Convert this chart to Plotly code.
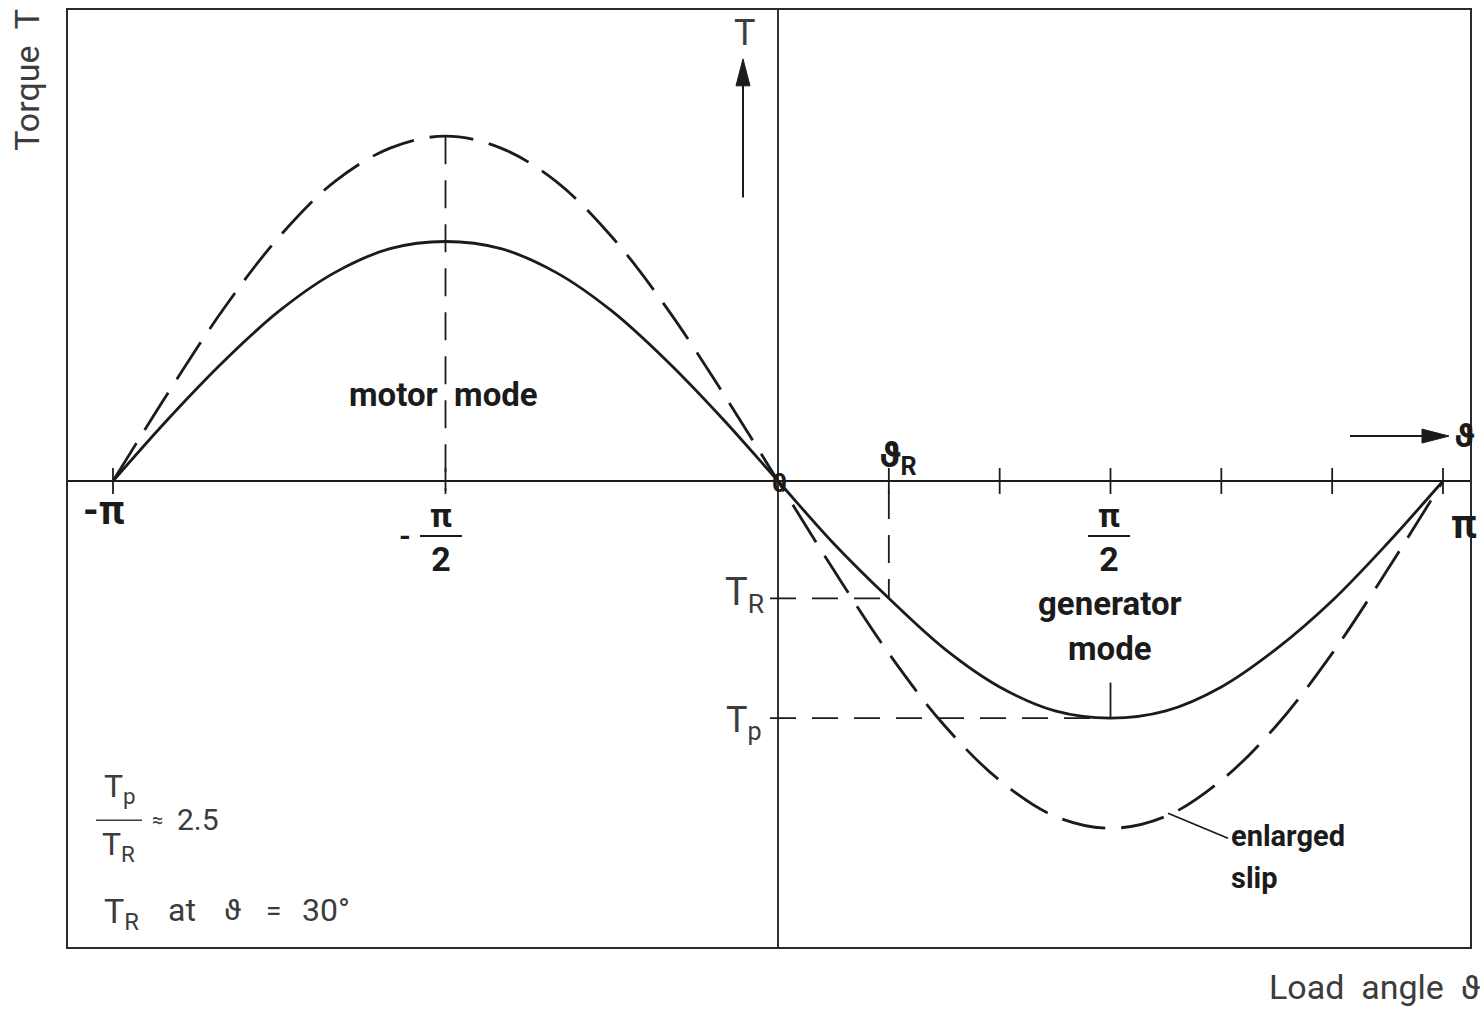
import math
import plotly.graph_objects as go

# Load angle samples (degrees) and the two torque curves
angle_deg = [-180, -165, -150, -135, -120, -105, -90, -75, -60, -45, -30, -15, 0,
             15, 30, 45, 60, 75, 90, 105, 120, 135, 150, 165, 180]
torque_normal = [0.0, 0.26, 0.5, 0.71, 0.87, 0.97, 1.0, 0.97, 0.87, 0.71, 0.5, 0.26, 0.0,
                 -0.26, -0.49, -0.7, -0.86, -0.96, -0.99, -0.96, -0.86, -0.7, -0.5, -0.26, 0.0]
torque_enlarged_slip = [0.0, 0.37, 0.72, 1.02, 1.25, 1.39, 1.44, 1.39, 1.25, 1.02, 0.72, 0.37, 0.0,
                        -0.37, -0.72, -1.02, -1.25, -1.4, -1.45, -1.4, -1.25, -1.02, -0.72, -0.37, 0.0]

# Reference points
theta_R_deg = 30
T_R = -0.49
T_p = -0.99
peak_motor_enlarged = 1.44
tick_deg = [-180, -90, 30, 60, 90, 120, 150, 180]

rad = [math.radians(a) for a in angle_deg]

# pixel <-> data helpers for label placement (plot area 68..1470 x 8..947)
X0, PX_PER_RAD = 778, 665 / math.pi
Y0, PX_PER_UNIT = 480, 240
W, H = 1484, 1009


def X(px):
    return (px - X0) / PX_PER_RAD


def Y(py):
    return (Y0 - py) / PX_PER_UNIT


FONT = "Roboto, DejaVu Sans, sans-serif"
INK = "#1b1b1b"
LIGHT = "#3c3c3c"

fig = go.Figure()

fig.add_trace(go.Scatter(x=rad, y=torque_normal, mode="lines", line_shape="spline",
                         line=dict(color=INK, width=2.8), hoverinfo="skip"))
fig.add_trace(go.Scatter(x=rad, y=torque_enlarged_slip, mode="lines", line_shape="spline",
                         line=dict(color=INK, width=2.8, dash="44px,16px"), hoverinfo="skip"))

shapes = []


def line(x0, y0, x1, y1, width=1.8, dash="solid", color=INK):
    shapes.append(dict(type="line", xref="x", yref="y", x0=x0, y0=y0, x1=x1, y1=y1,
                       line=dict(color=color, width=width, dash=dash)))


def arrow_head(pts):
    path = "M " + " L ".join(f"{X(px)},{Y(py)}" for px, py in pts) + " Z"
    shapes.append(dict(type="path", xref="x", yref="y", path=path,
                       fillcolor=INK, line=dict(color=INK, width=1)))


# coordinate axes through the origin
line(X(68), 0, X(1470), 0, width=1.8)
line(0, Y(8), 0, Y(947), width=1.8)

# axis ticks
for d in tick_deg:
    r = math.radians(d)
    line(r, Y(467), r, Y(493), width=1.8)

# dashed helper lines
th_R = math.radians(theta_R_deg)
line(-math.pi / 2, peak_motor_enlarged, -math.pi / 2, Y(490), width=1.8, dash="28px,16px")
line(th_R, Y(490), th_R, T_R, width=1.8, dash="28px,16px")
line(X(770), T_R, th_R, T_R, width=1.8, dash="26px,16px")
line(X(770), T_p, math.pi / 2, T_p, width=1.8, dash="26px,16px")
# Tp marker at the generator minimum
line(math.pi / 2, Y(682), math.pi / 2, T_p, width=1.8)
# leader to "enlarged slip"
line(X(1168), Y(813), X(1228), Y(838), width=1.8)

# fraction bars
line(X(420), Y(535), X(462), Y(535), width=2)
line(X(1088), Y(535), X(1130), Y(535), width=2)
line(X(96), Y(820), X(142), Y(820), width=1.6, color=LIGHT)

# direction arrows (torque up, load angle right)
line(X(743), Y(196), X(743), Y(80), width=2)
arrow_head([(743, 57), (736, 84), (750, 84)])
line(X(1350), Y(435), X(1425), Y(435), width=2)
arrow_head([(1449, 435), (1422, 428), (1422, 442)])

annotations = []


def txt(px, py, s, size, bold=False, color=None, xanchor="center", angle=0, paper=False):
    ann = dict(text=f"<b>{s}</b>" if bold else s,
               showarrow=False, xanchor=xanchor, yanchor="middle", textangle=angle,
               font=dict(family=FONT, size=size, color=color or (INK if bold else LIGHT)))
    if paper:
        # paper coords are relative to the plot area
        ann.update(x=(px - 68) / (1470 - 68), y=(947 - py) / (947 - 8),
                   xref="paper", yref="paper")
    else:
        ann.update(x=X(px), y=Y(py), xref="x", yref="y")
    annotations.append(ann)


# axis captions
txt(27, 78, "Torque  T", 34, angle=-90, paper=True)
txt(1375, 987, "Load  angle  ϑ", 34, paper=True)
txt(744, 31, "T", 36)
txt(1464, 434, "ϑ", 34, bold=True)

# x-axis labels
txt(104, 510, "-π", 40, bold=True)
txt(405, 535, "-", 30, bold=True)
txt(441, 536, "π<br>2", 34, bold=True)
txt(1109, 536, "π<br>2", 34, bold=True)
txt(1464, 524, "π", 40, bold=True)
txt(779, 482, "0", 26, bold=True)
txt(898, 456, "ϑ<sub>R</sub>", 36, bold=True)

# torque labels
txt(744, 594, "T<sub>R</sub>", 38)
txt(744, 722, "T<sub>p</sub>", 36)

# region labels
txt(443, 393, "motor  mode", 33, bold=True)
txt(1110, 603, "generator", 33, bold=True)
txt(1110, 648, "mode", 33, bold=True)
txt(1229, 836, "enlarged", 29, bold=True, xanchor="left")
txt(1229, 878, "slip", 29, bold=True, xanchor="left")

# ratio note
txt(120, 788, "T<sub>p</sub>", 32)
txt(118, 846, "T<sub>R</sub>", 32)
txt(157, 820, "≈", 20)
txt(198, 819, "2.5", 30)
txt(121, 913, "T<sub>R</sub>", 34)
txt(182, 910, "at", 32)
txt(232, 909, "ϑ", 30)
txt(273, 910, "=", 28)
txt(326, 910, "30°", 32)

fig.update_layout(
    width=W, height=H,
    margin=dict(l=68, r=14, t=8, b=62),
    paper_bgcolor="white", plot_bgcolor="white",
    showlegend=False,
    shapes=shapes, annotations=annotations,
    xaxis=dict(range=[X(68), X(1470)], showgrid=False, zeroline=False, showticklabels=False,
               ticks="", showline=True, mirror=True, linecolor="#2a2a2a", linewidth=2.4),
    yaxis=dict(range=[Y(947), Y(8)], showgrid=False, zeroline=False, showticklabels=False,
               ticks="", showline=True, mirror=True, linecolor="#2a2a2a", linewidth=2.4),
)

fig.write_html("out.html")
